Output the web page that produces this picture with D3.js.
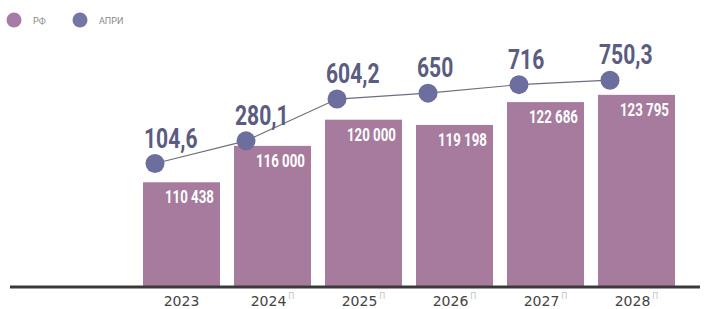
<!DOCTYPE html>
<html>
<head>
<meta charset="utf-8">
<script src="https://cdn.jsdelivr.net/npm/d3@7"></script>
<style>
  body { margin: 0; background: #fff; }
  svg { display: block; }
</style>
</head>
<body>
<script>
// data
var years    = ['2023', '2024', '2025', '2026', '2027', '2028'];
var forecast = [false, true, true, true, true, true];   // marked with a small "П"
var rfValues   = [110438, 116000, 120000, 119198, 122686, 123795];
var apriValues = [104.6, 280.1, 604.2, 650, 716, 750.3];
var legendLabels = ['РФ', 'АПРИ'];

var w = 708, h = 309,
	base = 286;

var barColor = '#a67b9d',
	dotColor = '#6c6e9e',
	labelColor = '#5a5c80';

var data = years.map(function(y, i) {
	return { year: y, f: forecast[i], rf: rfValues[i], apri: apriValues[i] };
});

var svg = d3.select('body').append('svg')
	.attr('width', w)
	.attr('height', h);

var x = d3.scaleBand()
	.domain(years)
	.range([136, 682])
	.paddingInner(0.154)
	.paddingOuter(0.077);

// the bar axis does not start at zero in the original
var yBar = d3.scaleLinear()
	.domain([94600, 124000])
	.range([base, base - 192.5]);

var yLine = d3.scaleLinear()
	.domain([0, 1000])
	.range([177, 48]);

var fmtBar = function(v) { return d3.format(',')(v).replace(/,/g, ' '); };
var fmtLine = function(v) { return String(v).replace('.', ','); };

// bars
svg.selectAll('.bar')
	.data(data)
	.enter().append('rect')
		.attr('class', 'bar')
		.attr('x', function(d) { return x(d.year); })
		.attr('y', function(d) { return yBar(d.rf); })
		.attr('width', x.bandwidth())
		.attr('height', function(d) { return base - yBar(d.rf); })
		.attr('fill', barColor);

// bar value labels, white, right aligned inside the bar
svg.selectAll('.bar-label')
	.data(data)
	.enter().append('text')
		.attr('class', 'bar-label')
		.attr('transform', function(d) {
			return 'translate(' + [x(d.year) + x.bandwidth() - 6, yBar(d.rf) + 21] + ')scale(0.7,1)';
		})
		.attr('text-anchor', 'end')
		.attr('font-family', 'Roboto, sans-serif')
		.attr('font-weight', 700)
		.attr('font-size', 19)
		.attr('fill', '#fff')
		.text(function(d) { return fmtBar(d.rf); });

// axis line
svg.append('line')
	.attr('x1', 10).attr('x2', 700)
	.attr('y1', base + 1).attr('y2', base + 1)
	.attr('stroke', '#3a3a3a')
	.attr('stroke-width', 3);

// year labels
var tick = svg.selectAll('.tick')
	.data(data)
	.enter().append('text')
		.attr('class', 'tick')
		.attr('x', function(d) { return x(d.year) + x.bandwidth() / 2; })
		.attr('y', 306)
		.attr('text-anchor', 'middle')
		.attr('font-family', 'DejaVu Sans, sans-serif')
		.attr('font-size', 14)
		.attr('fill', '#444');

tick.append('tspan').text(function(d) { return d.year; });
tick.filter(function(d) { return d.f; })
	.append('tspan')
		.attr('dx', 2)
		.attr('dy', -7)
		.attr('font-size', 8)
		.attr('fill', '#c4c4c4')
		.text('П');

// line connecting the dots
var line = d3.line()
	.x(function(d) { return x(d.year) + 12; })
	.y(function(d) { return yLine(d.apri); });

svg.append('path')
	.datum(data)
	.attr('d', line)
	.attr('fill', 'none')
	.attr('stroke', '#6e6e7e')
	.attr('stroke-width', 1.2);

svg.selectAll('.dot')
	.data(data)
	.enter().append('circle')
		.attr('class', 'dot')
		.attr('cx', function(d) { return x(d.year) + 12; })
		.attr('cy', function(d) { return yLine(d.apri); })
		.attr('r', 9.5)
		.attr('fill', dotColor);

svg.selectAll('.dot-label')
	.data(data)
	.enter().append('text')
		.attr('class', 'dot-label')
		.attr('transform', function(d) {
			return 'translate(' + [x(d.year) + 1, yLine(d.apri) - 16] + ')scale(0.78,1)';
		})
		.attr('font-family', 'Roboto, sans-serif')
		.attr('font-weight', 700)
		.attr('font-size', 27)
		.attr('fill', labelColor)
		.text(function(d) { return fmtLine(d.apri); });

// legend
var legend = svg.selectAll('.legend')
	.data(legendLabels)
	.enter().append('g')
		.attr('class', 'legend')
		.attr('transform', function(d, i) { return 'translate(' + (14 + i * 66) + ',20)'; });

legend.append('circle')
	.attr('r', 7.5)
	.attr('fill', function(d, i) { return i === 0 ? '#a77ba5' : '#7575a8'; });

legend.append('text')
	.attr('x', 19)
	.attr('y', 3.5)
	.attr('font-family', 'Roboto, sans-serif')
	.attr('font-size', 9)
	.attr('fill', '#888')
	.text(function(d) { return d; });
</script>
</body>
</html>
